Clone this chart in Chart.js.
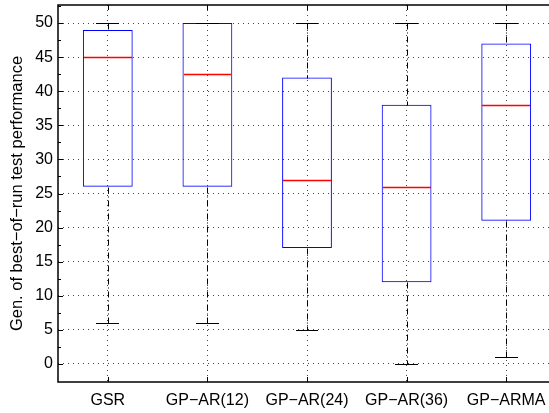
<!DOCTYPE html>
<html>
<head>
<meta charset="utf-8">
<script src="https://cdn.jsdelivr.net/npm/chart.js@4.4.0/dist/chart.umd.min.js"></script>
<style>
  html, body { margin: 0; padding: 0; background: #fff; overflow: hidden; }
  #wrap { width: 558px; height: 413px; }
</style>
</head>
<body>
<div id="wrap"><canvas id="chart"></canvas></div>
<script>
// box plot values
const categories = ['GSR', 'GP−AR(12)', 'GP−AR(24)', 'GP−AR(36)', 'GP−ARMA'];
const whiskerLow = [6, 6, 5, 0, 1];
const boxLow = [26, 26, 17, 12, 21];
const medians = [45, 42.5, 27, 26, 38];
const boxHigh = [49, 50, 42, 38, 47];
const whiskerHigh = [50, 50, 50, 50, 50];
const yTicks = [0, 5, 10, 15, 20, 25, 30, 35, 40, 45, 50];

Chart.defaults.font.family = '"Liberation Sans", Arial, sans-serif';
Chart.defaults.font.size = 16;
Chart.defaults.color = '#000';

// whiskers, caps, medians, frame and inward ticks (matlab look)
const boxExtras = {
  id: 'boxExtras',
  afterDatasetsDraw(chart) {
    const ctx = chart.ctx;
    const x = chart.scales.x;
    const y = chart.scales.y;
    const area = chart.chartArea;
    const px = (v) => Math.round(v) + 0.5;

    ctx.save();
    ctx.lineWidth = 1;

    categories.forEach((c, i) => {
      const cx = px(x.getPixelForValue(i));
      const capL = Math.round(x.getPixelForValue(i - 0.115));
      const capR = Math.round(x.getPixelForValue(i + 0.115));
      const boxL = Math.round(x.getPixelForValue(i - 0.25));
      const boxR = Math.round(x.getPixelForValue(i + 0.25));

      // whiskers
      ctx.strokeStyle = '#000';
      ctx.lineWidth = 1;
      ctx.setLineDash([6, 3, 1, 3]);
      ctx.beginPath();
      ctx.moveTo(cx, px(y.getPixelForValue(whiskerHigh[i])));
      ctx.lineTo(cx, px(y.getPixelForValue(boxHigh[i])));
      ctx.moveTo(cx, px(y.getPixelForValue(boxLow[i])));
      ctx.lineTo(cx, px(y.getPixelForValue(whiskerLow[i])));
      ctx.stroke();

      // caps
      ctx.setLineDash([]);
      ctx.beginPath();
      const yh = px(y.getPixelForValue(whiskerHigh[i]));
      const yl = px(y.getPixelForValue(whiskerLow[i]));
      ctx.moveTo(capL, yh); ctx.lineTo(capR, yh);
      ctx.moveTo(capL, yl); ctx.lineTo(capR, yl);
      ctx.stroke();

      // median
      ctx.strokeStyle = '#ff0000';
      ctx.lineWidth = 1.4;
      ctx.beginPath();
      const ym = px(y.getPixelForValue(medians[i]));
      ctx.moveTo(boxL + 1, ym); ctx.lineTo(boxR - 1, ym);
      ctx.stroke();
    });

    // frame
    ctx.strokeStyle = '#000';
    ctx.setLineDash([]);
    ctx.lineWidth = 1.5;
    ctx.strokeRect(Math.round(area.left), Math.round(area.top), Math.round(area.right - area.left), Math.round(area.bottom - area.top));

    // inward ticks
    ctx.lineWidth = 1;
    ctx.beginPath();
    yTicks.forEach((v) => {
      const yy = px(y.getPixelForValue(v));
      ctx.moveTo(area.left, yy); ctx.lineTo(area.left + 5, yy);
      ctx.moveTo(area.right, yy); ctx.lineTo(area.right - 5, yy);
      if (v + 2.5 < y.max) {
        const ym = px(y.getPixelForValue(v + 2.5));
        ctx.moveTo(area.left, ym); ctx.lineTo(area.left + 3, ym);
        ctx.moveTo(area.right, ym); ctx.lineTo(area.right - 3, ym);
      }
    });
    categories.forEach((c, i) => {
      const cx = px(x.getPixelForValue(i));
      ctx.moveTo(cx, area.bottom); ctx.lineTo(cx, area.bottom - 5);
      ctx.moveTo(cx, area.top); ctx.lineTo(cx, area.top + 5);
    });
    ctx.stroke();
    ctx.restore();
  }
};

new Chart(document.getElementById('chart'), {
  type: 'bar',
  data: {
    labels: categories,
    datasets: [{
      data: boxLow.map((lo, i) => [lo, boxHigh[i]]),
      backgroundColor: 'rgba(0,0,0,0)',
      borderColor: '#0000ff',
      borderWidth: 1,
      borderSkipped: false,
      barPercentage: 0.5,
      categoryPercentage: 1
    }]
  },
  options: {
    responsive: true,
    maintainAspectRatio: false,
    animation: false,
    layout: { padding: { top: 5, right: 2, left: 0, bottom: 0 } },
    plugins: { legend: { display: false }, tooltip: { enabled: false } },
    scales: {
      x: {
        grid: {
          offset: false,
          color: '#444',
          lineWidth: 1,
          drawTicks: false
        },
        border: { display: false, dash: [1, 4] },
        ticks: { padding: 9, maxRotation: 0, autoSkip: false },
        afterFit: (s) => { s.height = 31; s.paddingLeft = 0; s.paddingRight = 0; }
      },
      y: {
        min: -2.65,
        max: 52.65,
        afterBuildTicks: (s) => { s.ticks = yTicks.map((v) => ({ value: v })); },
        grid: { color: '#444', lineWidth: 1, drawTicks: false },
        border: { display: false, dash: [1, 4] },
        ticks: { padding: 5 },
        title: {
          display: true,
          text: 'Gen. of best−of−run test performance',
          font: { size: 16.5 },
          padding: { top: 8, bottom: 0 }
        },
        afterFit: (s) => { s.width = 58; s.paddingTop = 0; s.paddingBottom = 0; }
      }
    }
  },
  plugins: [boxExtras]
});
</script>
</body>
</html>
